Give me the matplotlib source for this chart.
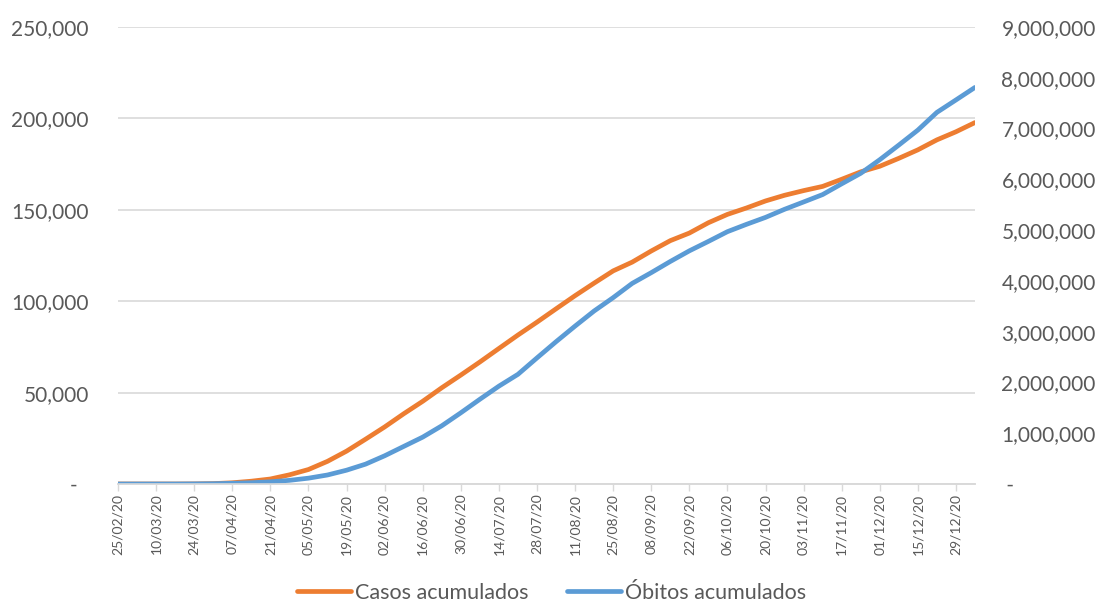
import pandas as pd
import matplotlib.pyplot as plt
from matplotlib.ticker import FuncFormatter, MultipleLocator

plt.rcParams['font.family'] = ['Lato', 'DejaVu Sans']

# weekly (Tuesday) cumulative figures, Brazil 2020
dates = pd.to_datetime([
    '2020-02-25', '2020-03-03', '2020-03-10', '2020-03-17', '2020-03-24',
    '2020-03-31', '2020-04-07', '2020-04-14', '2020-04-21', '2020-04-28',
    '2020-05-05', '2020-05-12', '2020-05-19', '2020-05-26', '2020-06-02',
    '2020-06-09', '2020-06-16', '2020-06-23', '2020-06-30', '2020-07-07',
    '2020-07-14', '2020-07-21', '2020-07-28', '2020-08-04', '2020-08-11',
    '2020-08-18', '2020-08-25', '2020-09-01', '2020-09-08', '2020-09-15',
    '2020-09-22', '2020-09-29', '2020-10-06', '2020-10-13', '2020-10-20',
    '2020-10-27', '2020-11-03', '2020-11-10', '2020-11-17', '2020-11-24',
    '2020-12-01', '2020-12-08', '2020-12-15', '2020-12-22', '2020-12-29',
    '2021-01-05'])

casos = [
    0, 0, 0, 1, 46,
    201, 667, 1532, 2741, 5017,
    7921, 12400, 17971, 24512, 31199,
    38406, 45241, 52645, 59594, 66741,
    74133, 81487, 88539, 95819, 103026,
    109888, 116580, 121381, 127464, 133119,
    137272, 142921, 147494, 150998, 154837,
    157946, 160496, 162802, 166699, 170769,
    173817, 178159, 182799, 188259, 192681,
    197732]

obitos = [
    0, 2, 34, 291, 2201,
    5717, 13717, 25262, 43079, 71886,
    114715, 177589, 271628, 391222, 555383,
    739503, 923189, 1145906, 1402041, 1668589,
    1926824, 2159654, 2483191, 2801921, 3109630,
    3407354, 3669995, 3950931, 4162073, 4382263,
    4591364, 4777522, 4969141, 5113628, 5250727,
    5409854, 5554206, 5700044, 5911758, 6118708,
    6386787, 6674999, 6970034, 7318821, 7563551,
    7810400]

start = dates[0]
x = (dates - start).days
tick_days = list(range(0, 309, 14))
tick_labels = [(start + pd.Timedelta(days=d)).strftime('%d/%m/%y') for d in tick_days]

txt = '#595959'
grid = '#D9D9D9'

fig = plt.figure(figsize=(11.03, 6.03), dpi=100)
ax = fig.add_axes([118 / 1103, 1 - 484 / 603, (975 - 118) / 1103, (484 - 27) / 603])
ax2 = ax.twinx()

ax.plot(x, casos, color='#ED7D31', linewidth=3.4, solid_capstyle='round',
        label='Casos acumulados')
ax2.plot(x, obitos, color='#5B9BD5', linewidth=3.4, solid_capstyle='round',
         label='Óbitos acumulados')

ax.set_xlim(0, 315)
ax.set_ylim(0, 250000)
ax2.set_ylim(0, 9000000)
ax.yaxis.set_major_locator(MultipleLocator(50000))
ax2.yaxis.set_major_locator(MultipleLocator(1000000))

ax.yaxis.set_major_formatter(FuncFormatter(lambda v, p: '-  ' if v == 0 else f'{v:,.0f}'))
ax2.yaxis.set_major_formatter(FuncFormatter(lambda v, p: ' -' if v == 0 else f'{v:,.0f}'))

ax.set_xticks(tick_days)
ax.set_xticklabels(tick_labels, rotation=90, fontsize=10, color=txt)
ax.tick_params(axis='x', length=5, width=1, color=grid, pad=2)
ax.tick_params(axis='y', length=0, labelsize=15, labelcolor=txt, pad=21)
ax2.tick_params(axis='y', length=0, labelsize=15, labelcolor=txt, pad=19)

ax.grid(axis='y', color=grid, linewidth=1.2)
ax.set_axisbelow(True)
for a in (ax, ax2):
    for side in ('top', 'left', 'right'):
        a.spines[side].set_visible(False)
    a.spines['bottom'].set_color(grid)
    a.spines['bottom'].set_linewidth(1.2)

h1, l1 = ax.get_legend_handles_labels()
h2, l2 = ax2.get_legend_handles_labels()
fig.legend(h1 + h2, l1 + l2, loc='center', bbox_to_anchor=(0.5, 1 - 593 / 603),
           ncol=2, frameon=False, fontsize=15.5, labelcolor=txt,
           handlelength=2.5, handletextpad=0.2, columnspacing=1.8)

fig.savefig('out.png', dpi=100)
